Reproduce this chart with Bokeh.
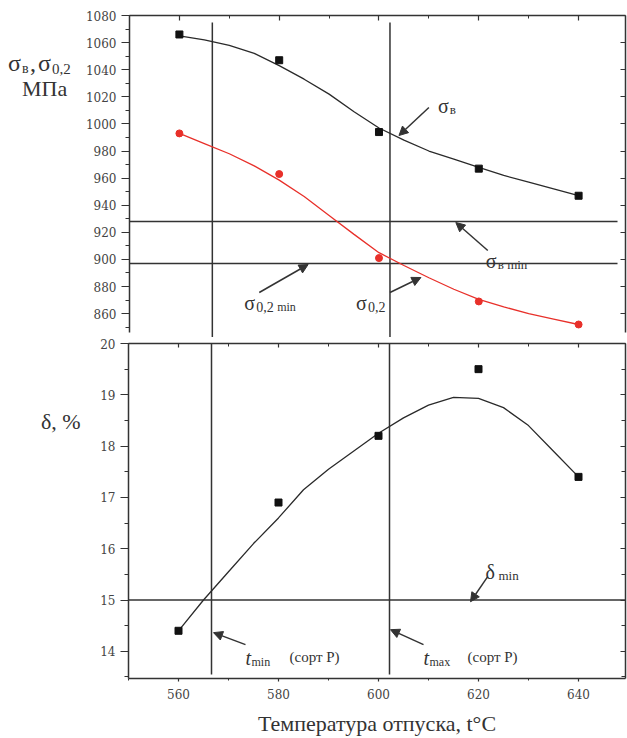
from bokeh.plotting import figure
from bokeh.models import LinearAxis, SingleIntervalTicker, Label, Arrow, NormalHead, Div
from bokeh.layouts import column, row
from bokeh.embed import file_html
from bokeh.resources import INLINE

# ---------------- data ----------------
temps = [560, 580, 600, 620, 640]
sigma_b = [1066, 1047, 994, 967, 947]
sigma_02 = [993, 963, 901, 869, 852]
delta = [14.4, 16.9, 18.2, 19.5, 17.4]

fit_temps = [560, 565, 570, 575, 580, 585, 590, 595, 600, 605, 610, 615, 620, 625, 630, 635, 640]
sigma_b_fit = [1065, 1062, 1058, 1052, 1043, 1033, 1022, 1009, 997, 988, 980, 974, 968, 962, 957, 952, 947]
sigma_02_fit = [993, 985.5, 978, 969, 958.5, 946.5, 932.5, 918.5, 905, 895.5, 886.5, 878, 870.5, 865, 860, 856, 852]
delta_fit = [14.4, 15.0, 15.55, 16.1, 16.6, 17.15, 17.55, 17.9, 18.25, 18.55, 18.8, 18.95, 18.93, 18.75, 18.4, 17.9, 17.4]

sigma_b_min = 928
sigma_02_min = 897
delta_min = 15.0
t_min_line = 566.6
t_max_line = 602.2

x_ticks_major = 20
x_title = "Температура отпуска, t°C"
# ---------------------------------------------------------------

FONT = "Liberation Serif"
TICK_FONT = "DejaVu Serif"
INK = "#333333"
RED = "#e8302a"

X_RANGE = (550, 649.4)
Y1 = (842.4, 1080)
Y2 = (13.47, 20)

LEFT_W = 82          # width of the side-label column
FIG_W = 627 - LEFT_W
BORDER_L = 128 - LEFT_W

# page-pixel -> data helpers for annotation placement
def dx(px):
    return X_RANGE[0] + (px - 128) * (X_RANGE[1] - X_RANGE[0]) / 497.0

def dy1(py):
    return Y1[1] - (py - 15) * (Y1[1] - Y1[0]) / 322.0

def dy2(py):
    return Y2[1] - (py - 343) * (Y2[1] - Y2[0]) / 336.0


def style_axis(ax, label_size="12px", tick_out=8, tick_in=0, minor_out=4, minor_in=0, standoff=5):
    ax.axis_line_color = INK
    ax.axis_line_width = 1.5
    ax.major_tick_line_color = INK
    ax.minor_tick_line_color = INK
    ax.major_tick_line_width = 1.2
    ax.minor_tick_line_width = 1
    ax.major_tick_out = tick_out
    ax.major_tick_in = tick_in
    ax.minor_tick_out = minor_out
    ax.minor_tick_in = minor_in
    ax.major_label_text_font = TICK_FONT
    ax.major_label_text_font_size = label_size
    ax.major_label_text_color = "#444444"
    ax.major_label_standoff = standoff


def put(p, px, py, dyf, text, size, style="normal", align="left", baseline="alphabetic"):
    p.add_layout(Label(x=dx(px), y=dyf(py), text=text, text_font=FONT,
                       text_font_size=f"{size}px", text_font_style=style,
                       text_color=INK, text_align=align, text_baseline=baseline))


def arrow(p, dyf, x0, y0, x1, y1):
    p.add_layout(Arrow(end=NormalHead(size=9, fill_color=INK, line_color=INK, line_width=1),
                       x_start=dx(x0), y_start=dyf(y0), x_end=dx(x1), y_end=dyf(y1),
                       line_color=INK, line_width=1.5))


def span(left, top, size, text, lh):
    return (f'<div style="position:absolute;left:{left}px;top:{top}px;font-size:{size}px;'
            f'line-height:{lh}px;white-space:nowrap;">{text}</div>')


# ---------------- top panel ----------------
p1 = figure(width=FIG_W, height=337, x_range=X_RANGE, y_range=Y1,
            x_axis_location="above", toolbar_location=None, output_backend="svg",
            min_border_left=BORDER_L, min_border_right=2, min_border_top=15, min_border_bottom=0)
p1.grid.visible = False
p1.outline_line_color = None
p1.background_fill_color = "white"
p1.border_fill_color = "white"

p1.xaxis.ticker = SingleIntervalTicker(interval=x_ticks_major, num_minor_ticks=2)
style_axis(p1.xaxis[0], label_size="0px", tick_out=0, tick_in=5, minor_out=0, minor_in=3, standoff=0)

p1.yaxis.ticker = SingleIntervalTicker(interval=20, num_minor_ticks=2)
p1.yaxis.bounds = (846, 1080)
style_axis(p1.yaxis[0])

r1 = LinearAxis(ticker=SingleIntervalTicker(interval=20, num_minor_ticks=1), bounds=(846, 1080))
style_axis(r1, label_size="0px", tick_out=0, tick_in=5, minor_out=0, minor_in=0, standoff=0)
p1.add_layout(r1, "right")

# reference lines
p1.segment(x0=[X_RANGE[0], X_RANGE[0]], y0=[sigma_b_min, sigma_02_min],
           x1=[647.8, 647.8], y1=[sigma_b_min, sigma_02_min], line_color=INK, line_width=1.5)
p1.segment(x0=[t_min_line, t_max_line], y0=[Y1[0], Y1[0]],
           x1=[t_min_line, t_max_line], y1=[1074.8, 1074.8], line_color=INK, line_width=1.5)

# curves and points
p1.line(fit_temps, sigma_b_fit, line_color="#2a2a2a", line_width=1.3)
p1.line(fit_temps, sigma_02_fit, line_color=RED, line_width=1.3)
p1.scatter(temps, sigma_b, marker="square", size=7, fill_color="#111111", line_color="#111111")
p1.scatter(temps, sigma_02, marker="circle", size=7, fill_color=RED, line_color=RED)

# annotations
put(p1, 437, 105, dy1, "σ", 20)
put(p1, 449, 109, dy1, "в", 13)
arrow(p1, dy1, 428, 107, 398, 135)

put(p1, 485, 260, dy1, "σ", 20)
put(p1, 497, 264, dy1, "в min", 13)
arrow(p1, dy1, 487, 250, 455, 222)

put(p1, 355, 302, dy1, "σ", 20)
put(p1, 367, 306, dy1, "0,2", 14)
arrow(p1, dy1, 389, 292, 420, 277)

put(p1, 243, 302, dy1, "σ", 20)
put(p1, 255, 306, dy1, "0,2", 14)
put(p1, 276, 306, dy1, "min", 12)
arrow(p1, dy1, 258, 292, 307, 264)

# side label for the top panel (positions inside the label column)
div1 = Div(width=LEFT_W, height=337, margin=(0, 0, 0, 0), text=(
    f'<div style="position:relative;width:{LEFT_W}px;height:337px;'
    'font-family:\'Liberation Serif\',serif;color:#333333;">'
    + span(8, 53, 24, "σ", 20)
    + span(22, 63, 14, "в", 11)
    + span(30, 53, 24, ",", 20)
    + span(38, 53, 24, "σ", 20)
    + span(52, 63, 15, "0,2", 12)
    + span(22, 79, 22, "МПа", 19)
    + '</div>'))

# ---------------- bottom panel ----------------
p2 = figure(width=FIG_W, height=401, x_range=X_RANGE, y_range=Y2,
            toolbar_location=None, output_backend="svg",
            min_border_left=BORDER_L, min_border_right=2, min_border_top=6, min_border_bottom=59)
p2.grid.visible = False
p2.outline_line_color = None
p2.background_fill_color = "white"
p2.border_fill_color = "white"

p2.xaxis.ticker = SingleIntervalTicker(interval=x_ticks_major, num_minor_ticks=2)
style_axis(p2.xaxis[0], tick_out=3, tick_in=0, minor_out=2, minor_in=0, standoff=7)
p2.xaxis.axis_label = x_title
p2.xaxis.axis_label_text_font = FONT
p2.xaxis.axis_label_text_font_size = "22px"
p2.xaxis.axis_label_text_font_style = "normal"
p2.xaxis.axis_label_text_color = INK
p2.xaxis.axis_label_standoff = 9

p2.yaxis.ticker = SingleIntervalTicker(interval=1, num_minor_ticks=2)
style_axis(p2.yaxis[0])

t2 = LinearAxis(ticker=SingleIntervalTicker(interval=x_ticks_major, num_minor_ticks=2))
style_axis(t2, label_size="0px", tick_out=0, tick_in=4, minor_out=0, minor_in=3, standoff=0)
p2.add_layout(t2, "above")

r2 = LinearAxis(ticker=SingleIntervalTicker(interval=1, num_minor_ticks=2))
style_axis(r2, label_size="0px", tick_out=0, tick_in=5, minor_out=0, minor_in=4, standoff=0)
p2.add_layout(r2, "right")

p2.segment(x0=[X_RANGE[0]], y0=[delta_min], x1=[X_RANGE[1]], y1=[delta_min],
           line_color=INK, line_width=1.5)
p2.segment(x0=[t_min_line, t_max_line], y0=[13.55, 13.55],
           x1=[t_min_line, t_max_line], y1=[Y2[1], Y2[1]], line_color=INK, line_width=1.5)

p2.line(fit_temps, delta_fit, line_color="#2a2a2a", line_width=1.3)
p2.scatter(temps, delta, marker="square", size=7, fill_color="#111111", line_color="#111111")

put(p2, 485, 572, dy2, "δ", 20)
put(p2, 498, 576, dy2, "min", 13)
arrow(p2, dy2, 487, 577, 470, 602)

put(p2, 245, 658, dy2, "t", 20, style="italic")
put(p2, 251, 662, dy2, "min", 12)
put(p2, 289, 657, dy2, "(сорт Р)", 15)
arrow(p2, dy2, 245, 645, 213, 633)

put(p2, 423, 658, dy2, "t", 20, style="italic")
put(p2, 429, 662, dy2, "max", 12)
put(p2, 467, 657, dy2, "(сорт Р)", 15)
arrow(p2, dy2, 423, 645, 390, 630)

div2 = Div(width=LEFT_W, height=401, margin=(0, 0, 0, 0), text=(
    f'<div style="position:relative;width:{LEFT_W}px;height:401px;'
    'font-family:\'Liberation Serif\',serif;color:#333333;">'
    + span(41, 73, 22, "δ, %", 24)
    + '</div>'))

layout = column(row(div1, p1, spacing=0), row(div2, p2, spacing=0), spacing=0)

with open("out.html", "w") as f:
    f.write(file_html(layout, INLINE))
